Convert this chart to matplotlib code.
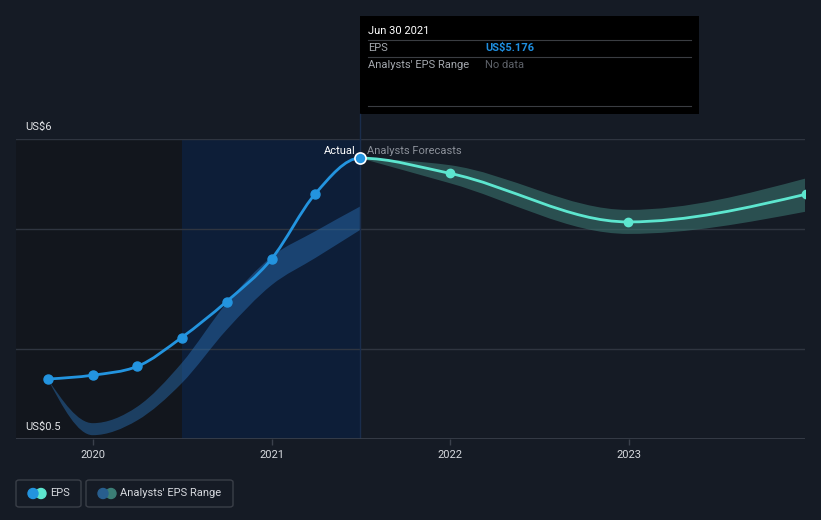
import matplotlib
matplotlib.use("Agg")
import matplotlib.pyplot as plt
import matplotlib.dates as mdates
from matplotlib.path import Path
from matplotlib.patches import PathPatch, Rectangle, FancyBboxPatch, Circle
from matplotlib.lines import Line2D
import numpy as np

plt.rcParams['font.family'] = ['Roboto', 'DejaVu Sans']

# ---------------- data ----------------
actual_dates = ["2019-09-30", "2019-12-31", "2020-03-31", "2020-06-30",
                "2020-09-30", "2020-12-31", "2021-03-31", "2021-06-30"]
actual_eps = [1.60, 1.67, 1.83, 2.36, 3.02, 3.80, 5.00, 5.65]

past_range_upper = [1.60, 0.79, 1.09, 1.89, 2.99, 3.84, 4.31, 4.76]
past_range_lower = [1.60, 0.57, 0.84, 1.52, 2.50, 3.32, 3.82, 4.33]

forecast_dates = ["2021-06-30", "2021-12-31", "2022-12-31", "2023-12-31"]
forecast_eps = [5.65, 5.37, 4.48, 4.99]
forecast_upper = [5.65, 5.52, 4.70, 5.28]
forecast_lower = [5.65, 5.19, 4.26, 4.67]

year_ticks = ["2020", "2021", "2022", "2023"]
y_labels = ["US$6", "US$0.5"]
grid_values = [6.0, 4.35, 2.15]

tooltip_date = "Jun 30 2021"
tooltip_eps = "US$5.176"

# ---------------- colours ----------------
BG = "#151b25"
BLUE = "#2394df"
TEAL = "#5de6cf"
GRID = "#2f3540"

W, H = 821, 520
fig = plt.figure(figsize=(W / 100, H / 100), dpi=100, facecolor=BG)


def fx(x):
    return x / W


def fy(y):
    return 1 - y / H


ax_left, ax_right, ax_top, ax_bottom = 16, 805, 139, 439
ax = fig.add_axes([fx(ax_left), fy(ax_bottom), (ax_right - ax_left) / W, (ax_bottom - ax_top) / H])
ax.set_facecolor(BG)

xa = mdates.datestr2num(actual_dates)
xf = mdates.datestr2num(forecast_dates)
x0 = mdates.datestr2num("2019-07-27")
x1 = mdates.datestr2num("2023-12-28")
ax.set_xlim(x0, x1)
ax.set_ylim(0.5, 6.0)


def tangents(x, y):
    """Tangents as used by a monotone-x cubic curve."""
    x = np.asarray(x, float)
    y = np.asarray(y, float)
    n = len(x)
    h = np.diff(x)
    s = np.diff(y) / h
    t = np.zeros(n)
    for i in range(1, n - 1):
        h0, h1, s0, s1 = h[i - 1], h[i], s[i - 1], s[i]
        p = (s0 * h1 + s1 * h0) / (h0 + h1)
        t[i] = (np.sign(s0) + np.sign(s1)) * min(abs(s0), abs(s1), 0.5 * abs(p))
    if n > 2:
        t[0] = (3 * s[0] - t[1]) / 2
        t[-1] = (3 * s[-1] - t[-2]) / 2
    else:
        t[0] = t[-1] = s[0]
    return t


def bezier_verts(x, y, m=None):
    x = np.asarray(x, float)
    y = np.asarray(y, float)
    if m is None:
        m = tangents(x, y)
    verts = [(x[0], y[0])]
    for i in range(len(x) - 1):
        h = x[i + 1] - x[i]
        verts.append((x[i] + h / 3, y[i] + m[i] * h / 3))
        verts.append((x[i + 1] - h / 3, y[i + 1] - m[i + 1] * h / 3))
        verts.append((x[i + 1], y[i + 1]))
    return verts


def curve_path(x, y, m=None):
    v = bezier_verts(x, y, m)
    codes = [Path.MOVETO] + [Path.CURVE4] * (len(v) - 1)
    return Path(v, codes)


def band_path(x, up, lo):
    x = list(x)
    vu = bezier_verts(x, up)
    vl = bezier_verts(x[::-1], lo[::-1])
    verts = vu + vl + [vu[0]]
    codes = ([Path.MOVETO] + [Path.CURVE4] * (len(vu) - 1) + [Path.LINETO]
             + [Path.CURVE4] * (len(vl) - 1) + [Path.CLOSEPOLY])
    return Path(verts, codes)


# shaded periods
ax.axvspan(x0, xa[3], color="#12161d", zorder=0, lw=0)
ax.axvspan(xa[3], xa[-1], color="#0d1e38", zorder=0, lw=0)

for g in grid_values:
    ax.axhline(g, color=GRID, lw=1, zorder=1)

# bands
ax.add_patch(PathPatch(band_path(xa, past_range_upper, past_range_lower),
                       facecolor="#2a72b8", alpha=0.45, lw=0, zorder=2))
ax.add_patch(PathPatch(band_path(xf, forecast_upper, forecast_lower),
                       facecolor="#3c7a74", alpha=0.55, lw=0, zorder=2))

# lines (tangents from the joined series so the join is smooth)
x_all = np.concatenate([xa, xf[1:]])
y_all = list(actual_eps) + list(forecast_eps[1:])
m_all = tangents(x_all, y_all)
na = len(xa)
ax.add_patch(PathPatch(curve_path(xa, actual_eps, m_all[:na]), facecolor="none",
                       edgecolor=BLUE, lw=2.0, zorder=4, capstyle="round"))
ax.add_patch(PathPatch(curve_path(xf, forecast_eps, m_all[na - 1:]), facecolor="none",
                       edgecolor=TEAL, lw=2.0, zorder=4, capstyle="round"))
ax.plot(xa[:-1], actual_eps[:-1], "o", color=BLUE, ms=6.5, zorder=5, mec=BLUE)
ax.plot(xf[1:], forecast_eps[1:], "o", color=TEAL, ms=6, zorder=5)
ax.plot(xa[-1:], actual_eps[-1:], "o", color=BLUE, ms=8, mec="white", mew=1.2, zorder=6)

# hover line
ax.axvline(xa[-1], color="#1a2d4c", lw=1, zorder=3)

for s in ax.spines.values():
    s.set_visible(False)
ax.axhline(0.5, color="#3b414c", lw=1.2, zorder=3)

ax.set_yticks([])
ax.set_xticks(mdates.datestr2num([f"{t}-01-01" for t in year_ticks]))
ax.set_xticklabels(year_ticks)
ax.tick_params(axis="x", colors="#3b414c", length=4, width=1, labelcolor="#d6d9de",
               labelsize=8, pad=4)

# labels inside
ax.text(xa[-1] - 9, 6.0 - 12 * 5.5 / 300, "Actual", color="white", fontsize=8,
        ha="right", va="center", zorder=7)
ax.text(xa[-1] + 15, 6.0 - 12 * 5.5 / 300, "Analysts Forecasts", color="#8b9099",
        fontsize=8, ha="left", va="center", zorder=7)

fig.text(fx(25), fy(127), y_labels[0], color="#e3e5e8", fontsize=8, ha="left", va="center")
fig.text(fx(25), fy(427), y_labels[1], color="#e3e5e8", fontsize=8, ha="left", va="center")

# vertical hover line continues to the tooltip
fig.add_artist(Line2D([fx(360), fx(360)], [fy(114), fy(139)], color="#1a2d4c", lw=1))

# tooltip
fig.add_artist(Rectangle((fx(360), fy(114)), (699 - 360) / W, (114 - 16) / H,
                         facecolor="black", edgecolor="none", transform=fig.transFigure))
fig.text(fx(368), fy(31), tooltip_date, color="white", fontsize=8, ha="left", va="center")
for yy in (40, 57, 106):
    fig.add_artist(Line2D([fx(368), fx(691)], [fy(yy), fy(yy)], color="#3a3d42", lw=0.8))
fig.text(fx(368), fy(48), "EPS", color="#a4a8ae", fontsize=8, ha="left", va="center")
fig.text(fx(485), fy(48), tooltip_eps, color="#1f8fe0", fontsize=8, fontweight="bold",
         ha="left", va="center")
fig.text(fx(368), fy(65), "Analysts' EPS Range", color="#a4a8ae", fontsize=8, ha="left", va="center")
fig.text(fx(485), fy(65), "No data", color="#5d6168", fontsize=8, ha="left", va="center")

# legend
ax2 = fig.add_axes([0, 0, 1, 1], facecolor="none")
ax2.set_xlim(0, W)
ax2.set_ylim(H, 0)
ax2.axis("off")


def legend_box(xl, xr, c1, c2, label):
    fig.add_artist(FancyBboxPatch((fx(xl), fy(507)), (xr - xl) / W, 27 / H,
                                  boxstyle="round,pad=0,rounding_size=0.004",
                                  facecolor="none", edgecolor="#3a3f48", lw=1,
                                  transform=fig.transFigure))
    ax2.add_patch(Circle((xl + 17, 493.5), 5, color=c1, zorder=2))
    ax2.add_patch(Circle((xl + 25, 493.5), 5, color=c2, zorder=1))
    fig.text(fx(xl + 34), fy(493.5), label, color="#d6d9de", fontsize=8, ha="left", va="center")


legend_box(16, 81, BLUE, TEAL, "EPS")
legend_box(86, 233, "#285e8e", "#3b7e76", "Analysts' EPS Range")

fig.savefig("out.png", dpi=100, facecolor=BG)
